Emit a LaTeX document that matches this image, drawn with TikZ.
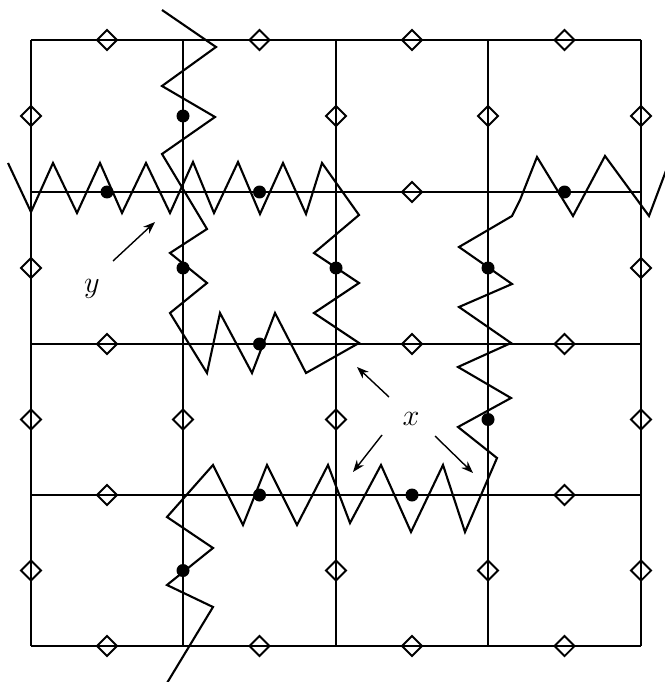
\documentclass[tikz,border=0pt]{standalone}
\usepackage{tikz}
\usetikzlibrary{arrows.meta, shapes.geometric}
\tikzset{
  bond/.style={line width=1.1pt},
  site/.style={diamond, draw, line width=1.1pt, inner sep=0pt, minimum width=4.2mm, minimum height=4.2mm},
  spin/.style={circle, fill, inner sep=0pt, minimum size=2.6mm},
  zig/.style={line width=1.2pt, line join=miter},
  pointer/.style={-{Stealth[length=2.4mm, width=1.8mm]}, line width=0.8pt},
  lab/.style={inner sep=1pt, font=\fontsize{18}{22}\selectfont},
}

\begin{document}
\begin{tikzpicture}[x=0.02cm, y=-0.02cm]
\useasboundingbox (0,0) rectangle (665,682);
% lattice
\foreach \gx in {31,183,336,488,641} \draw[bond] (\gx,40) -- (\gx,646);
\foreach \gy in {40,192,344,495,646} \draw[bond] (31,\gy) -- (641,\gy);
% empty links
\foreach \px/\py [count=\k] in {107/40, 259.5/40, 412/40, 564.5/40, 412/192, 107/344, 412/344, 564.5/344,
    107/495, 564.5/495, 107/646, 259.5/646, 412/646, 564.5/646,
    31/116, 31/268, 31/419.5, 31/570.5, 183/419.5, 336/116, 336/419.5, 336/570.5,
    488/116, 488/570.5, 641/116, 641/268, 641/419.5, 641/570.5}
  \node[site] (e\k) at (\px,\py) {};
% strings
\draw[zig] (162,10) -- (216,47) -- (162,86) -- (215,117) -- (162,154) -- (207,229) -- (170,253)
  -- (207,283) -- (170,313) -- (207,373) -- (220,313) -- (252,373) -- (275,313) -- (306,373)
  -- (359,343) -- (314,313) -- (359,283) -- (314,253) -- (359,215) -- (322,163) -- (306,214)
  -- (283,163) -- (260,214) -- (238,162) -- (214,213) -- (193,162) -- (170,213) -- (146,163)
  -- (122,213) -- (100,163) -- (77,213) -- (53,163) -- (31,212) -- (8,163);
\draw[zig] (667,168) -- (649,216) -- (605,156) -- (573,216) -- (537,157) -- (520,200) -- (512,216)
  -- (459,247) -- (512,284) -- (459,307) -- (511,343) -- (458,367) -- (511,398) -- (458,427)
  -- (497,458) -- (465,532) -- (443,465) -- (411,532) -- (381,465) -- (350,523) -- (328,465)
  -- (297,525) -- (267,465) -- (243,525) -- (213,465) -- (167,517) -- (213,548) -- (167,585)
  -- (213,607) -- (167,683);
% occupied links
\foreach \px/\py [count=\k] in {107/192, 259.5/192, 564.5/192, 259.5/344, 259.5/495, 412/495,
    183/116, 183/268, 336/268, 488/268, 488/419.5, 183/570.5}
  \node[spin] (o\k) at (\px,\py) {};
% labels
\node[lab] (ylab) at (92,289) {$y$};
\node[lab] (xlab) at (411,419) {$x$};
\coordinate (ytail) at (113,261);
\coordinate (ytip) at (155,222);
\coordinate (xtail1) at (389,397);
\coordinate (xtip1) at (357,367);
\coordinate (xtail2) at (382,435);
\coordinate (xtip2) at (353,472);
\coordinate (xtail3) at (435,436);
\coordinate (xtip3) at (473,473);
\draw[pointer] (ytail) -- (ytip);
\draw[pointer] (xtail1) -- (xtip1);
\draw[pointer] (xtail2) -- (xtip2);
\draw[pointer] (xtail3) -- (xtip3);
\end{tikzpicture}
\end{document}
